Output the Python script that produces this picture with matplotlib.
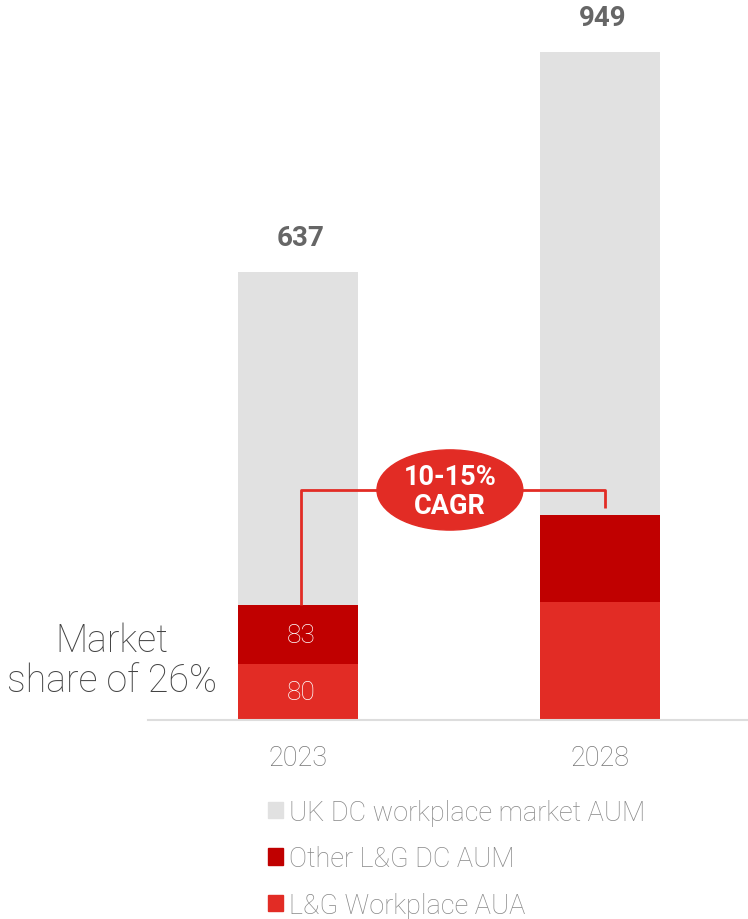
import matplotlib.pyplot as plt
from matplotlib.patches import Ellipse, Patch

plt.rcParams['font.family'] = ['Roboto', 'DejaVu Sans']

# Data (GBP bn)
years = ['2023', '2028']
workplace_aua = [80, 168]      # L&G Workplace AUA
other_dc_aum = [83, 124]       # Other L&G DC AUM
market_total = [637, 949]      # UK DC workplace market AUM
rest_of_market = [t - a - b for t, a, b in zip(market_total, workplace_aua, other_dc_aum)]
cagr_text = '10-15%\nCAGR'
share_text = 'Market\nshare of 26%'

grey = '#e1e1e1'
dark_red = '#c00000'
red = '#e22c25'

fig = plt.figure(figsize=(7.48, 9.2), dpi=100)
ax = fig.add_axes([148 / 748, 199 / 920, 600 / 748, 721 / 920])

x = [0, 1]
w = 0.397
ax.bar(x, workplace_aua, w, color=red, zorder=2)
ax.bar(x, other_dc_aum, w, bottom=workplace_aua, color=dark_red, zorder=2)
lg_tops = [a + b for a, b in zip(workplace_aua, other_dc_aum)]
ax.bar(x, rest_of_market, w, bottom=lg_tops, color=grey, zorder=2)

ax.set_xlim(-0.4967, 1.490)
ax.set_ylim(0, 1025)

# totals above bars
for xi, t in zip(x, market_total):
    ax.text(xi + 0.01, t + 30, str(t), ha='center', va='bottom', fontsize=20,
            fontweight='bold', color='#666666')

# values inside the 2023 segments
ax.text(x[0] + 0.01, workplace_aua[0] / 2, str(workplace_aua[0]), ha='center', va='center',
        fontsize=19, color='white', fontweight='light')
ax.text(x[0] + 0.01, workplace_aua[0] + other_dc_aum[0] / 2, str(other_dc_aum[0]), ha='center',
        va='center', fontsize=19, color='white', fontweight='light')

# CAGR connector between the two L&G stacks
level = 327
ax.plot([x[0] + 0.01, x[0] + 0.01, x[1] + 0.017, x[1] + 0.017],
        [lg_tops[0], level, level, lg_tops[1] + 9],
        color=red, lw=2, zorder=3, solid_capstyle='butt')
ax.add_patch(Ellipse((0.503, level), 0.483, 114, color=red, zorder=4))
ax.text(0.503, level - 2, cagr_text, ha='center', va='center', fontsize=19.5,
        fontweight='bold', color='white', linespacing=1.1, zorder=5)

# market share note
ax.text(-0.615, lg_tops[0] / 2 + 4, share_text, ha='center', va='center', fontsize=27,
        color='#444444', fontweight='light', linespacing=1.08, clip_on=False)

ax.set_xticks(x)
ax.set_xticklabels(years, fontsize=19.5, color='#777777', fontweight='light')
ax.tick_params(axis='x', length=0, pad=17)
ax.set_yticks([])
for s in ['top', 'left', 'right']:
    ax.spines[s].set_visible(False)
ax.spines['bottom'].set_color('#dddddd')
ax.spines['bottom'].set_linewidth(1.5)

handles = [Patch(color=grey), Patch(color=dark_red), Patch(color=red)]
labels = ['UK DC workplace market AUM', 'Other L&G DC AUM', 'L&G Workplace AUA']
leg = fig.legend(handles, labels, loc='upper left', bbox_to_anchor=(254 / 748, 1 - 786 / 920),
                 frameon=False, fontsize=19.5, handlelength=0.56, handleheight=0.56,
                 handletextpad=0.22, labelspacing=0.72, borderpad=0)
for t in leg.get_texts():
    t.set_color('#888888')
    t.set_fontweight('light')

fig.savefig('out.png', dpi=100)
